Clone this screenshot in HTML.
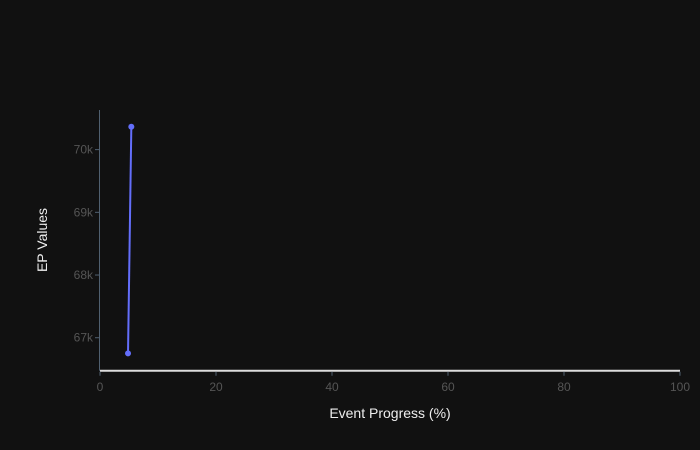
<!DOCTYPE html>
<html><head><meta charset="utf-8"><style>
body{margin:0;background:#111;}
svg{display:block;font-family:"Liberation Sans",sans-serif;}
</style></head><body>
<svg id="c" width="700" height="450">
<rect width="700" height="450" fill="#111"/>
</svg>
<script>
const xVals=[4.83,5.4];
const yVals=[66750,70365];
const xTicks=[0,20,40,60,80,100];
const yTicks=[67000,68000,69000,70000];
const yTickLabels=["67k","68k","69k","70k"];
const svg=document.getElementById('c');
const NS='http://www.w3.org/2000/svg';
const x0=100,x1=680,yTop=110,yBot=370.7;
const yMin=66474,yMax=70632;
function sx(v){return x0+(v-0)/(100-0)*(x1-x0);}
function sy(v){return yBot-(v-yMin)/(yMax-yMin)*(yBot-yTop);}
function mk(t,a){const e=document.createElementNS(NS,t);for(const k in a)e.setAttribute(k,a[k]);svg.appendChild(e);return e;}
let e=mk('line',{x1:99.5,y1:yTop,x2:99.5,y2:yBot,stroke:'#506070','stroke-width':1});


yTicks.forEach((v,i)=>{
 const y=sy(v);
 let t=mk('line',{x1:95,y1:y,x2:99,y2:y,stroke:'#506070'});
 
 
 let l=mk('text',{x:93,y:y+4,'text-anchor':'end',fill:'#555','font-size':12});
 l.textContent=yTickLabels[i];
 
 
});
e=mk('line',{x1:x0,y1:yBot,x2:x1,y2:yBot,stroke:'#ddd','stroke-width':2});


xTicks.forEach(v=>{
 const x=sx(v);
 let t=mk('line',{x1:x,y1:yBot+1,x2:x,y2:yBot+5,stroke:'#506070'});
 
 
 let l=mk('text',{x:x,y:391,'text-anchor':'middle',fill:'#555','font-size':12});
 l.textContent=v;
 
 
});
let d=xVals.map((v,i)=>(i?'L':'M')+sx(v)+','+sy(yVals[i])).join(' ');
e=mk('path',{d:d,stroke:'#636efa','stroke-width':2,fill:'none'});


xVals.forEach((v,i)=>{
 let p=mk('circle',{cx:sx(v),cy:sy(yVals[i]),r:3,fill:'#636efa'});
 
 
});
e=mk('text',{x:390,y:418,'text-anchor':'middle',fill:'#eee','font-size':14});
e.textContent='Event Progress (%)';


e=mk('text',{x:47,y:240,'text-anchor':'middle',fill:'#eee','font-size':14,transform:'rotate(-90 47 240)'});
e.textContent='EP Values';


</script>
</body></html>
